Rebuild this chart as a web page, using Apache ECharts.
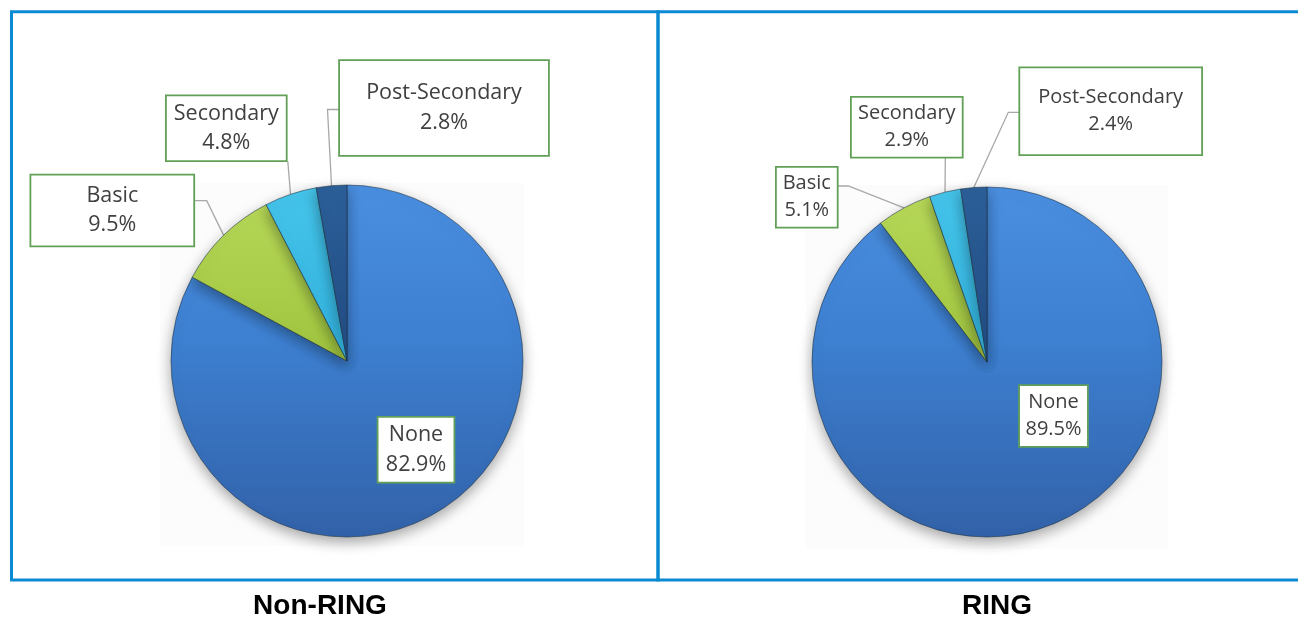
<!DOCTYPE html>
<html>
<head>
<meta charset="utf-8">
<script src="https://cdn.jsdelivr.net/npm/echarts@6/dist/echarts.min.js"></script>
<style>
html,body{margin:0;padding:0;background:#fff;}
#main{width:1298px;height:621px;}
</style>
</head>
<body>
<div id="main"></div>
<script>
// ---- data ----
const categories = ['None', 'Basic', 'Secondary', 'Post-Secondary'];
const nonRingValues = [82.9, 9.5, 4.8, 2.8];
const ringValues = [89.5, 5.1, 2.9, 2.4];
const chartTitles = ['Non-RING', 'RING'];

// ---- layout / style (kept separate from data) ----
const sliceColors = [
  ['#4a8fe0', '#3d7fd0', '#3262a9'],
  ['#b8d95a', '#a2c641', '#8cb12e'],
  ['#45c4ea', '#33b3df', '#2597c4'],
  ['#2c5f99', '#234f86', '#1b3f6e']
];
const panels = [
  {
    center: [347, 361], radius: 176, fontSize: 21.5, lineHeight: 29.5, titleX: 320,
    backdrop: [160, 183, 364, 363],
    boxes: [
      { c: [416, 449.7], w: 77, h: 66 },
      { c: [112.3, 210.5], w: 164, h: 72, pts: [[206.7, 200.7], [194.3, 200.7]] },
      { c: [226.3, 128.2], w: 121, h: 66, pts: [[287.8, 161.3]] },
      { c: [444, 108], w: 210, h: 96, pts: [[327.5, 109.5], [339, 109.5]] }
    ]
  },
  {
    center: [987, 362], radius: 175, fontSize: 20, lineHeight: 27, titleX: 997,
    backdrop: [806, 185, 362, 364],
    boxes: [
      { c: [1053.5, 416], w: 69, h: 62 },
      { c: [806.8, 197.2], w: 62, h: 61, pts: [[848.3, 186], [838, 186]] },
      { c: [906.8, 127.2], w: 112, h: 61, pts: [[945.3, 157.7]] },
      { c: [1110.7, 111.2], w: 183, h: 88, pts: [[1008.3, 112.3], [1019, 112.3]] }
    ]
  }
];
const textShift = 1;

const chart = echarts.init(document.getElementById('main'));

function grad(p, cols) {
  const [cx, cy] = p.center, r = p.radius;
  return {
    type: 'linear', global: true,
    x: cx, y: cy - r, x2: cx, y2: cy + r,
    colorStops: [
      { offset: 0, color: cols[0] },
      { offset: 0.45, color: cols[1] },
      { offset: 1, color: cols[2] }
    ]
  };
}

function buildSeries(values, p) {
  const total = values.reduce((a, b) => a + b, 0);
  const data = categories.map((name, i) => {
    const padV = (p.boxes[i].h - 2 * p.lineHeight) / 2 - 1;
    return {
      name: name,
      value: values[i],
      itemStyle: { color: grad(p, sliceColors[i]) },
      label: {
        width: p.boxes[i].w - 2,
        padding: [padV + textShift, 0, padV - textShift, 0]
      },
      labelLine: { show: i !== 0 }
    };
  });
  return {
    type: 'pie',
    center: p.center,
    radius: p.radius,
    startAngle: 90,
    clockwise: true,
    avoidLabelOverlap: false,
    minShowLabelAngle: 0,
    animation: false,
    silent: true,
    z: 5,
    data: data,
    itemStyle: {
      borderColor: 'rgba(25,45,60,0.55)',
      borderWidth: 1,
      shadowBlur: 14,
      shadowColor: 'rgba(0,0,0,0.35)',
      shadowOffsetY: 5
    },
    label: {
      show: true,
      position: 'outside',
      formatter: (d) => d.name + '\n' + d.value.toFixed(1) + '%',
      fontFamily: 'Open Sans',
      fontSize: p.fontSize,
      lineHeight: p.lineHeight,
      color: '#404040',
      backgroundColor: '#ffffff',
      borderColor: '#62a058',
      borderWidth: 1.8,
      align: 'center'
    },
    labelLine: {
      show: true,
      lineStyle: { color: '#a8a8a8', width: 1.3 }
    },
    labelLayout: function (params) {
      const i = params.dataIndex;
      const b = p.boxes[i];
      const out = { x: b.c[0], y: b.c[1], align: 'center', verticalAlign: 'middle' };
      if (b.pts) {
        // anchor on the slice rim at its middle angle
        let cum = 0;
        for (let k = 0; k < i; k++) cum += values[k];
        const mid = (cum + values[i] / 2) / total * Math.PI * 2;
        let anchor = [p.center[0] + p.radius * Math.sin(mid), p.center[1] - p.radius * Math.cos(mid)];
        if (params.labelLinePoints && params.labelLinePoints[0]) {
          anchor = params.labelLinePoints[0].slice();
        }
        const pts = [anchor].concat(b.pts);
        while (pts.length < 3) pts.push(pts[pts.length - 1].slice());
        out.labelLinePoints = pts;
      }
      return out;
    }
  };
}

const frameColor = '#0a8ad2';
const backdrops = panels.map(p => ({
  type: 'rect', z: -1, silent: true,
  shape: { x: p.backdrop[0], y: p.backdrop[1], width: p.backdrop[2], height: p.backdrop[3] },
  style: { fill: '#fcfcfc' }
}));
const option = {
  backgroundColor: '#ffffff',
  animation: false,
  graphic: backdrops.concat([
    { type: 'rect', shape: { x: 11.5, y: 11.7, width: 646.5, height: 568.3 }, style: { fill: 'none', stroke: frameColor, lineWidth: 3 }, z: 10 },
    { type: 'rect', shape: { x: 658, y: 11.7, width: 700, height: 568.3 }, style: { fill: 'none', stroke: frameColor, lineWidth: 3 }, z: 10 },
    { type: 'text', x: panels[0].titleX, y: 606, style: { text: chartTitles[0], align: 'center', verticalAlign: 'middle', font: 'bold 28px "Liberation Sans", Arial, sans-serif', fill: '#000' } },
    { type: 'text', x: panels[1].titleX, y: 606, style: { text: chartTitles[1], align: 'center', verticalAlign: 'middle', font: 'bold 28px "Liberation Sans", Arial, sans-serif', fill: '#000' } }
  ]),
  series: [
    buildSeries(nonRingValues, panels[0]),
    buildSeries(ringValues, panels[1])
  ]
};
chart.setOption(option);
</script>
</body>
</html>
